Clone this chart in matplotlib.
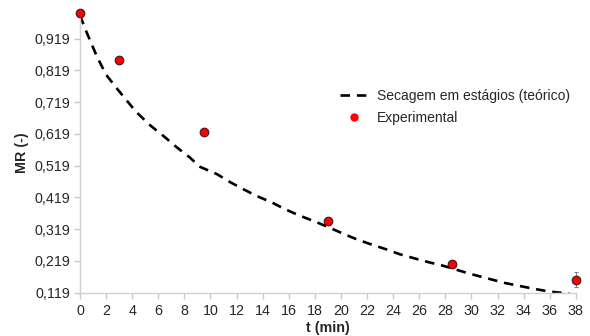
import matplotlib
matplotlib.use("Agg")
import matplotlib.pyplot as plt
from matplotlib.lines import Line2D

plt.rcParams['font.family'] = ['Liberation Sans', 'DejaVu Sans']

# Theoretical curve (Secagem em estágios)
t_model = [0, 0.4, 1.3, 2.0, 2.8, 3.6, 4.3, 5.4, 6.4, 7.4, 8.4, 9.2, 10.5, 11.5, 12.5,
           13.5, 14.7, 15.7, 16.8, 18.0, 19.1, 20.2, 21.2, 22.3, 23.5, 24.5, 25.8,
           26.8, 27.9, 29.1, 30.2, 31.4, 32.5, 33.7, 34.8, 35.9, 37.0, 37.5]
mr_model = [0.992, 0.949, 0.862, 0.805, 0.763, 0.723, 0.688, 0.645, 0.612, 0.577, 0.545,
            0.515, 0.492, 0.467, 0.445, 0.424, 0.403, 0.382, 0.362, 0.343, 0.324, 0.304,
            0.287, 0.271, 0.255, 0.240, 0.225, 0.214, 0.203, 0.188, 0.175, 0.162, 0.150,
            0.140, 0.131, 0.123, 0.118, 0.117]

# Experimental points
t_exp = [0, 3, 9.5, 19, 28.5, 38]
mr_exp = [1.000, 0.850, 0.626, 0.345, 0.208, 0.160]
err_exp = [0.0, 0.0, 0.0, 0.005, 0.005, 0.024]

x_ticks = list(range(0, 39, 2))
y_ticks = [0.119, 0.219, 0.319, 0.419, 0.519, 0.619, 0.719, 0.819, 0.919]
y_ticklabels = ['0,119', '0,219', '0,319', '0,419', '0,519', '0,619', '0,719', '0,819', '0,919']

FS = 10.3
fig = plt.figure(figsize=(5.9, 3.36), dpi=100)
ax = fig.add_axes([0.1356, 0.129, 0.976 - 0.1356, 0.962 - 0.129])

ax.plot(t_model, mr_model, color='black', lw=1.9, dashes=(3.6, 2.6),
        zorder=2, clip_on=True)
ax.errorbar(t_exp, mr_exp, yerr=err_exp, fmt='o', color='#ff0000', mec='#3a1a1a',
            mew=0.8, ms=6.2, ecolor='#808080', elinewidth=0.8, capsize=1.5,
            zorder=3, clip_on=False)

ax.set_xlim(0, 38)
ax.set_ylim(0.119, 1.0)
ax.set_xticks(x_ticks)
ax.set_xticklabels([str(v) for v in x_ticks])
ax.set_yticks(y_ticks)
ax.set_yticklabels(y_ticklabels)

for s in ['top', 'right']:
    ax.spines[s].set_visible(False)
for s in ['left', 'bottom']:
    ax.spines[s].set_color('#d0d0d0')
    ax.spines[s].set_linewidth(1.0)
ax.tick_params(axis='both', colors='#c8c8c8', length=4, width=1.0, labelsize=FS,
               labelcolor='#262626')
ax.tick_params(axis='x', pad=4)
ax.tick_params(axis='y', pad=3)

ax.set_xlabel('t (min)', fontsize=FS, fontweight='bold', color='#262626', labelpad=2)
ax.set_ylabel('MR (-)', fontsize=FS, fontweight='bold', color='#262626', labelpad=4)

handles = [
    Line2D([], [], color='black', lw=1.9, dashes=(3.6, 2.6)),
    Line2D([], [], ls='none', marker='o', ms=5, color='#ff0000', mec='#ff0000'),
]
labels = ['Secagem em estágios (teórico)', 'Experimental']
leg = ax.legend(handles, labels, loc='upper left', bbox_to_anchor=(0.524, 0.728),
                frameon=False, fontsize=10, handlelength=2.1, handletextpad=0.6,
                labelspacing=0.6, borderaxespad=0, borderpad=0)
for txt in leg.get_texts():
    txt.set_color('#262626')

fig.savefig('out.png', dpi=100)
